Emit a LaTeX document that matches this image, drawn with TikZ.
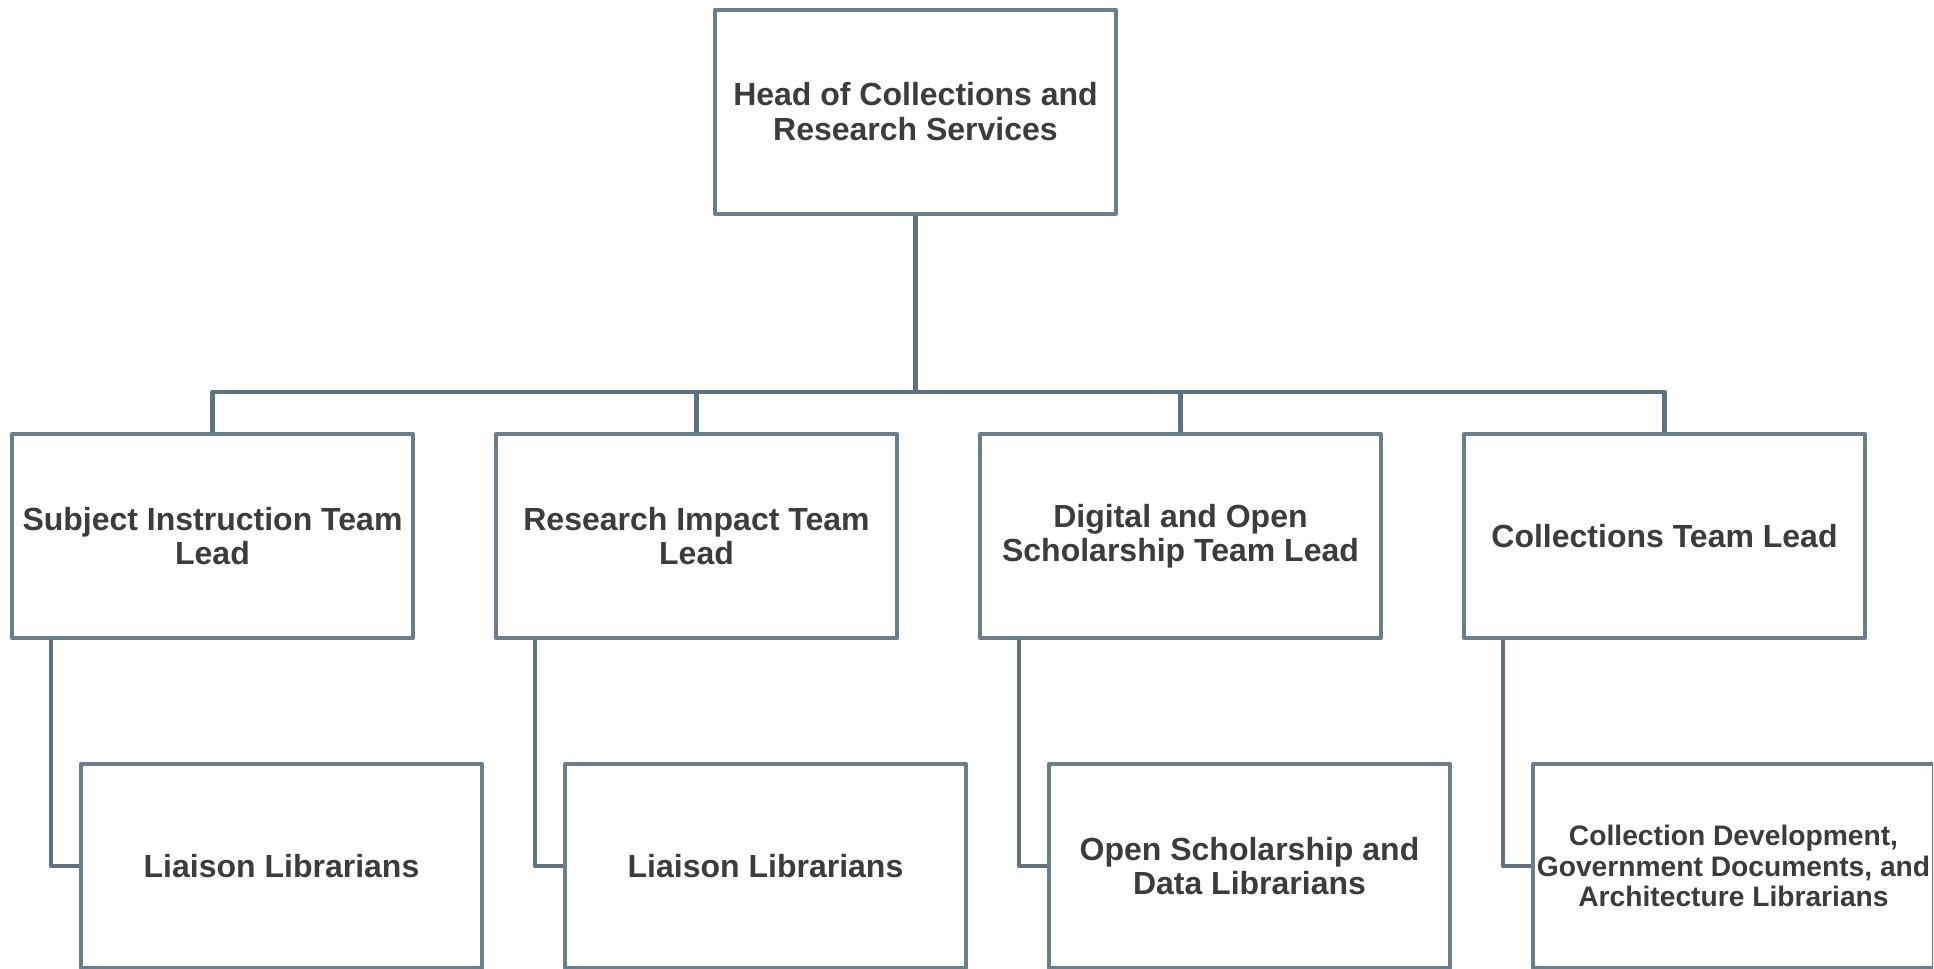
\documentclass[tikz,border=0pt]{standalone}
\usepackage{fontspec}
\setmainfont{Liberation Sans}
\definecolor{boxline}{HTML}{6B7F8B}
\definecolor{conline}{HTML}{5E717C}
\definecolor{txt}{HTML}{3C3C3C}
\begin{document}
\begin{tikzpicture}[x=0.5pt,y=-0.5pt,
  orgbox/.style={draw=boxline, line width=2pt, line join=round, fill=white,
    minimum width=200.5pt, minimum height=102pt, inner sep=0pt, align=center,
    text=txt, font=\bfseries\fontsize{16}{17.25}\selectfont},
  smallbox/.style={orgbox, font=\bfseries\fontsize{14.1}{15.4}\selectfont},
  conn/.style={draw=conline, line width=2.2pt, line join=round}]
\useasboundingbox (0,0) rectangle (1934,969);
\clip (0,0) rectangle (1933,969);
% top
\node[orgbox] (top) at (915.5,111.5) {Head of Collections and\\Research Services};
% team leads
\node[orgbox] (m1) at (212.5,536) {Subject Instruction Team\\Lead};
\node[orgbox] (m2) at (696.5,536) {Research Impact Team\\Lead};
\node[orgbox] (m3) at (1180.5,536) {Digital and Open\\Scholarship Team Lead};
\node[orgbox] (m4) at (1664.5,536) {Collections Team Lead};
% bottom
\node[orgbox] (b1) at (281.5,866) {Liaison Librarians};
\node[orgbox] (b2) at (765.5,866) {Liaison Librarians};
\node[orgbox] (b3) at (1249.5,866) {Open Scholarship and\\Data Librarians};
\node[smallbox] (b4) at (1733.5,866) {Collection Development,\\Government Documents, and\\Architecture Librarians};
% bus
\coordinate (bus) at (915.5,392);
\draw[conn] (top.south) -- (bus);
\draw[conn] (m1.north) |- (bus) -| (m4.north);
\draw[conn] (m2.north) -- (m2.north |- bus);
\draw[conn] (m3.north) -- (m3.north |- bus);
% elbows
\draw[conn] ([xshift=20.5pt]m1.south west) |- (b1.west);
\draw[conn] ([xshift=20.5pt]m2.south west) |- (b2.west);
\draw[conn] ([xshift=20.5pt]m3.south west) |- (b3.west);
\draw[conn] ([xshift=20.5pt]m4.south west) |- (b4.west);
\end{tikzpicture}
\end{document}
